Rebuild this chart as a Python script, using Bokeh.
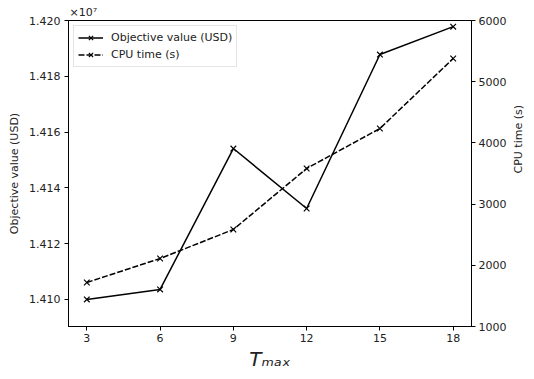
import math
from bokeh.plotting import figure
from bokeh.models import (Range1d, LinearAxis, FixedTicker, Legend, LegendItem, Title)
from bokeh.embed import file_html
from bokeh.resources import INLINE

# ---- data ----
t_max = [3, 6, 9, 12, 15, 18]
objective = [1.41000e7, 1.41036e7, 1.41541e7, 1.41326e7, 1.41878e7, 1.41978e7]
cpu_time = [1719, 2111, 2585, 3582, 4235, 5379]

x_ticks = [3, 6, 9, 12, 15, 18]
obj_ticks = [1.410e7, 1.412e7, 1.414e7, 1.416e7, 1.418e7, 1.420e7]
obj_tick_labels = ["1.410", "1.412", "1.414", "1.416", "1.418", "1.420"]
cpu_ticks = [1000, 2000, 3000, 4000, 5000, 6000]

FONT = "DejaVu Sans"
FS = "11px"
TXT = "#222222"

p = figure(width=534, height=379, output_backend="svg", toolbar_location=None,
           x_range=Range1d(2.25, 18.75), y_range=Range1d(1.40903e7, 1.4200e7),
           min_border_left=68, min_border_right=54, min_border_top=20,
           min_border_bottom=53)
p.extra_y_ranges = {"cpu": Range1d(1000, 6000)}
p.grid.visible = False
p.outline_line_color = "black"
p.outline_line_width = 1
p.background_fill_color = "white"
p.border_fill_color = "white"

def style_axis(ax):
    ax.axis_line_color = "black"
    ax.major_tick_line_color = "black"
    ax.minor_tick_line_color = None
    ax.major_tick_in = 0
    ax.major_tick_out = 4
    ax.major_label_text_font = FONT
    ax.major_label_text_font_size = FS
    ax.major_label_text_color = TXT
    ax.axis_label_text_font = FONT
    ax.axis_label_text_font_size = FS
    ax.axis_label_text_font_style = "normal"
    ax.axis_label_text_color = TXT

xa = p.xaxis[0]
style_axis(xa)
xa.ticker = FixedTicker(ticks=x_ticks)
xa.major_label_standoff = 3
xa.axis_label = "Tₘₐₓ"
xa.axis_label_text_font_size = "20px"
xa.axis_label_text_font_style = "italic"
xa.axis_label_standoff = 2

ya = p.yaxis[0]
style_axis(ya)
ya.ticker = FixedTicker(ticks=obj_ticks)
ya.major_label_overrides = {t: l for t, l in zip(obj_ticks, obj_tick_labels)}
ya.axis_label = "Objective value (USD)"
ya.major_label_standoff = 4
ya.axis_label_standoff = 5

ra = LinearAxis(y_range_name="cpu", axis_label="CPU time (s)")
style_axis(ra)
ra.ticker = FixedTicker(ticks=cpu_ticks)
ra.major_label_standoff = 3
ra.axis_label_standoff = 9
ra.axis_label_orientation = math.pi / 2
p.add_layout(ra, "right")

l1 = p.line(t_max, objective, line_color="black", line_width=1.5)
m1 = p.scatter(t_max, objective, marker="x", size=8, line_color="black", line_width=1.2)
l2 = p.line(t_max, cpu_time, y_range_name="cpu", line_color="black",
            line_width=1.5, line_dash="6 2")
m2 = p.scatter(t_max, cpu_time, y_range_name="cpu", marker="x", size=8,
               line_color="black", line_width=1.2)

legend = Legend(items=[LegendItem(label="Objective value (USD)", renderers=[l1, m1]),
                       LegendItem(label="CPU time (s)", renderers=[l2, m2])],
                location="top_left")
legend.margin = 5
legend.padding = 4
legend.spacing = 2
legend.glyph_width = 25
legend.glyph_height = 15
legend.label_height = 15
legend.label_standoff = 8
legend.label_text_font = FONT
legend.label_text_font_size = FS
legend.label_text_color = TXT
legend.border_line_color = "#cccccc"
legend.border_line_width = 1
legend.background_fill_alpha = 0.8
p.add_layout(legend)

# offset text above the left axis
p.add_layout(Title(text="×10⁷", align="left", offset=1, standoff=4,
                   text_font=FONT, text_font_size=FS, text_font_style="normal",
                   text_color=TXT), "above")

open("out.html", "w").write(file_html(p, INLINE))
